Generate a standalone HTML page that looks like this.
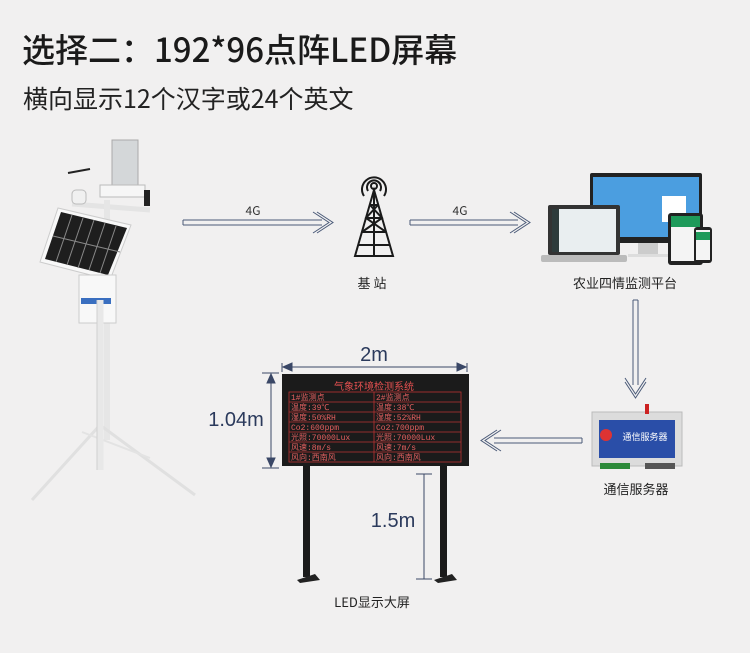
<!DOCTYPE html>
<html><head><meta charset="utf-8"><style>
html,body{margin:0;padding:0;background:#f1f0f0;}
svg{display:block;font-family:"Noto Sans CJK SC","Liberation Sans",sans-serif;}
</style></head><body>
<svg width="750" height="653" viewBox="0 0 750 653" xmlns="http://www.w3.org/2000/svg">
<rect width="750" height="653" fill="#f1f0f0"/>
<text x="22" y="62" font-size="33" font-weight="500" fill="#1a1a1a">选择二：192*96点阵LED屏幕</text>
<text x="23" y="108" font-size="25" fill="#222">横向显示12个汉字或24个英文</text>

<!-- weather station -->
<g>
 <rect x="112" y="140" width="26" height="50" fill="#d4d7d9" stroke="#aaa" stroke-width="1"/>
 <rect x="100" y="185" width="45" height="12" fill="#f6f6f6" stroke="#bbb"/>
 <line x1="72" y1="204" x2="150" y2="210" stroke="#e4e4e4" stroke-width="5"/>
 <line x1="68" y1="173" x2="90" y2="169" stroke="#222" stroke-width="2"/>
 <rect x="72" y="190" width="14" height="14" rx="4" fill="#f0f0f0" stroke="#bbb"/>
 <rect x="144" y="190" width="6" height="16" fill="#222"/>
 <line x1="107" y1="200" x2="107" y2="440" stroke="#e6e6e6" stroke-width="6"/>
 <polygon points="58,208 131,225 110,280 40,262" fill="#f8f8f8" stroke="#ccc"/>
 <polygon points="61,212 127,228 108,275 45,259" fill="#1e1e1e"/>
 <g stroke="#888" stroke-width="1">
  <line x1="72" y1="215" x2="56" y2="262"/><line x1="83" y1="218" x2="67" y2="265"/><line x1="94" y1="220" x2="78" y2="268"/><line x1="105" y1="223" x2="89" y2="270"/><line x1="116" y1="226" x2="100" y2="273"/>
  <line x1="53" y1="236" x2="120" y2="252"/>
 </g>
 <rect x="79" y="275" width="37" height="48" fill="#f8f8f8" stroke="#ccc"/>
 <rect x="81" y="298" width="30" height="6" fill="#3a6fc0"/>
 <line x1="100" y1="425" x2="32" y2="500" stroke="#e0e0e0" stroke-width="3"/>
 <line x1="100" y1="425" x2="195" y2="495" stroke="#e0e0e0" stroke-width="3"/>
 <line x1="82" y1="432" x2="150" y2="458" stroke="#e3e3e3" stroke-width="2"/>
 <line x1="100" y1="300" x2="100" y2="470" stroke="#e8e8e8" stroke-width="7"/>
 <line x1="97" y1="300" x2="97" y2="470" stroke="#cfcfcf" stroke-width="1"/>
</g>

<!-- arrows -->
<g fill="none" stroke="#4a5a78" stroke-width="1">
 <path d="M183,220 H322 M183,225 H322 M183,220 V225"/>
 <path d="M313,212 L329,222.5 L313,233 M317,212 L333,222.5 L317,233"/>
 <path d="M410,220 H518 M410,225 H518 M410,220 V225"/>
 <path d="M510,212 L526,222.5 L510,233 M514,212 L530,222.5 L514,233"/>
 <path d="M633,300 V385 M638,300 V385 M633,300 H638"/>
 <path d="M625,378 L635.5,394 L646,378 M625,382 L635.5,398 L646,382"/>
 <path d="M582,438 H494 M582,443 H494 M582,438 V443"/>
 <path d="M501,430 L485,440.5 L501,451 M497,430 L481,440.5 L497,451"/>
</g>
<text x="253" y="215" font-size="12" fill="#333" text-anchor="middle">4G</text>
<text x="460" y="215" font-size="12" fill="#333" text-anchor="middle">4G</text>

<!-- tower -->
<g fill="none" stroke="#1a1a1a" stroke-width="2">
 <path d="M364,196 A12,12 0 1 1 384,196"/>
 <path d="M368,191 A7,7 0 1 1 380,191"/>
 <circle cx="374" cy="186" r="3"/>
 <path d="M374,190 L355,256 H393 Z"/>
 <path d="M370,205 H378 M366,218 H382 M362,232 H386 M358,245 H390"/>
 <path d="M374,190 V256 M370,205 L382,218 L362,232 M378,205 L366,218 L386,232"/>
</g>
<text x="372" y="288" font-size="13" fill="#222" text-anchor="middle">基 站</text>

<!-- devices -->
<g>
 <rect x="590" y="173" width="112" height="70" rx="2" fill="#222"/>
 <rect x="593" y="177" width="106" height="60" fill="#4b9ee0"/>
 <rect x="662" y="196" width="24" height="26" fill="#fff"/>
 <rect x="638" y="243" width="20" height="12" fill="#ccc"/>
 <rect x="628" y="254" width="40" height="3" fill="#ddd"/>
 <rect x="548" y="205" width="72" height="50" rx="2" fill="#333"/>
 <rect x="552" y="209" width="64" height="43" fill="#e9eef0"/>
 <rect x="552" y="209" width="7" height="43" fill="#2d3b3b"/>
 <rect x="541" y="255" width="86" height="7" rx="2" fill="#bbb"/>
 <rect x="668" y="213" width="35" height="52" rx="3" fill="#222"/>
 <rect x="671" y="216" width="29" height="45" fill="#f4f4f4"/>
 <rect x="671" y="216" width="29" height="11" fill="#1e9a5a"/>
 <rect x="694" y="227" width="18" height="36" rx="3" fill="#222"/>
 <rect x="696" y="230" width="14" height="30" fill="#f4f4f4"/>
 <rect x="696" y="232" width="14" height="8" fill="#1e9a5a"/>
</g>
<text x="625" y="288" font-size="13" fill="#222" text-anchor="middle">农业四情监测平台</text>

<!-- server -->
<g>
 <rect x="592" y="412" width="90" height="54" fill="#dcdcdc" stroke="#bbb"/>
 <rect x="599" y="420" width="76" height="38" fill="#2a4ea8"/>
 <circle cx="606" cy="435" r="6" fill="#d33"/>
 <text x="645" y="440" font-size="9" fill="#fff" text-anchor="middle">通信服务器</text>
 <rect x="645" y="404" width="4" height="10" fill="#c22"/>
 <rect x="600" y="463" width="30" height="6" fill="#2c8a3a"/>
 <rect x="645" y="463" width="30" height="6" fill="#555"/>
</g>
<text x="636" y="494" font-size="13" fill="#222" text-anchor="middle">通信服务器</text>

<!-- LED board -->
<g>
 <rect x="303" y="462" width="7" height="115" fill="#1a1a1a"/>
 <rect x="440" y="462" width="7" height="115" fill="#1a1a1a"/>
 <path d="M297,580 L315,574 L320,580 L300,583 Z" fill="#222"/>
 <path d="M434,580 L452,574 L457,580 L438,583 Z" fill="#222"/>
 <rect x="282" y="374" width="187" height="92" fill="#1b1b1b"/>
 <text x="374" y="390" font-size="10" fill="#e45050" text-anchor="middle">气象环境检测系统</text>
 <g fill="none" stroke="#b33" stroke-width="0.8">
  <rect x="289" y="392" width="172" height="70"/>
  <line x1="374" y1="392" x2="374" y2="462"/>
  <line x1="289" y1="402" x2="461" y2="402"/><line x1="289" y1="412" x2="461" y2="412"/>
  <line x1="289" y1="422" x2="461" y2="422"/><line x1="289" y1="432" x2="461" y2="432"/>
  <line x1="289" y1="442" x2="461" y2="442"/><line x1="289" y1="452" x2="461" y2="452"/>
 </g>
 <g font-size="8" fill="#e46060" font-family="'Liberation Mono','Noto Sans CJK SC',monospace">
  <text x="291" y="400">1#监测点</text><text x="376" y="400">2#监测点</text>
  <text x="291" y="410">温度:39℃</text><text x="376" y="410">温度:38℃</text>
  <text x="291" y="420">湿度:50%RH</text><text x="376" y="420">湿度:52%RH</text>
  <text x="291" y="430">Co2:600ppm</text><text x="376" y="430">Co2:700ppm</text>
  <text x="291" y="440">光照:70000Lux</text><text x="376" y="440">光照:70000Lux</text>
  <text x="291" y="450">风速:8m/s</text><text x="376" y="450">风速:7m/s</text>
  <text x="291" y="460">风向:西南风</text><text x="376" y="460">风向:西南风</text>
 </g>
</g>

<!-- dimensions -->
<g stroke="#3a4766" stroke-width="1" fill="#3a4766">
 <line x1="282" y1="363" x2="282" y2="372"/><line x1="467" y1="363" x2="467" y2="372"/>
 <line x1="284" y1="367" x2="465" y2="367"/>
 <path d="M283,367 L292,363 L292,371 Z"/><path d="M466,367 L457,363 L457,371 Z"/>
 <line x1="262" y1="373" x2="279" y2="373"/><line x1="262" y1="468" x2="279" y2="468"/>
 <line x1="271" y1="375" x2="271" y2="466"/>
 <path d="M271,374 L267,383 L275,383 Z"/><path d="M271,467 L267,458 L275,458 Z"/>
 <line x1="416" y1="474" x2="432" y2="474"/><line x1="416" y1="579" x2="432" y2="579"/>
 <line x1="424" y1="474" x2="424" y2="579"/>
</g>
<g font-size="20" fill="#2b3a5c" font-family="'Liberation Sans','Noto Sans CJK SC',sans-serif">
 <text x="374" y="361" text-anchor="middle">2m</text>
 <text x="236" y="426" text-anchor="middle">1.04m</text>
 <text x="393" y="527" text-anchor="middle">1.5m</text>
</g>
<text x="372" y="607" font-size="13" fill="#222" text-anchor="middle">LED显示大屏</text>
</svg>
</body></html>
